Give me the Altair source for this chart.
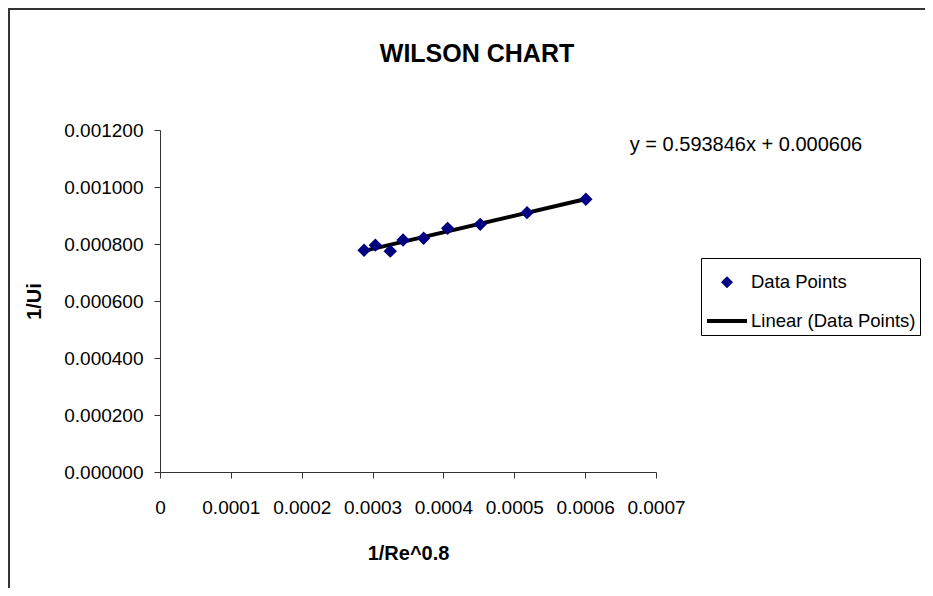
import altair as alt
import pandas as pd

# Data
x_vals = [0.000288, 0.000304, 0.000325, 0.000343, 0.000372, 0.000406, 0.000452, 0.000518, 0.000601]
y_vals = [0.000778, 0.000796, 0.000775, 0.000814, 0.000820, 0.000855, 0.000869, 0.000910, 0.000957]
series_names = ["Data Points", "Linear (Data Points)"]
x_ticks = [0, 0.0001, 0.0002, 0.0003, 0.0004, 0.0005, 0.0006, 0.0007]
y_ticks = [0, 0.0002, 0.0004, 0.0006, 0.0008, 0.0010, 0.0012]
equation_text = ["y = 0.593846x + 0.000606"]
equation_x = [0.000663]
equation_y = [0.001146]

FONT = "Liberation Sans"

pts = pd.DataFrame({"x": x_vals, "y": y_vals, "series": [series_names[0]] * len(x_vals)})
eq = pd.DataFrame({"x": equation_x, "y": equation_y, "label": equation_text})
frame_df = pd.DataFrame({"k": [0]})

x_scale = alt.Scale(domain=[0, 0.0007], nice=False, zero=True)
y_scale = alt.Scale(domain=[0, 0.0012], nice=False, zero=True)

x_axis = alt.Axis(
    values=x_ticks, format="~g", title="1/Re^0.8", grid=False,
    labelFont=FONT, labelFontSize=19, labelColor="black", labelPadding=20,
    titleFont=FONT, titleFontSize=20, titleFontWeight="bold", titleColor="black", titlePadding=26,
    domainColor="#333", tickColor="#333", tickSize=6, labelFlush=False, labelOverlap=False,
)
y_axis = alt.Axis(
    values=y_ticks, format=".6f", title="1/Ui", grid=False,
    labelFont=FONT, labelFontSize=19, labelColor="black", labelPadding=11,
    titleFont=FONT, titleFontSize=20, titleFontWeight="bold", titleColor="black", titlePadding=19,
    domainColor="#333", tickColor="#333", tickSize=6, labelFlush=False, labelOverlap=False,
)

legend = alt.Legend(
    title=" ", titleFontSize=9, titlePadding=2,
    orient="none", legendX=541, legendY=128,
    strokeColor="black", padding=4, labelFont=FONT, labelFontSize=18.5, labelColor="black",
    labelLimit=400, symbolStrokeWidth=4, labelOffset=2, rowPadding=5, fillColor="white",
)

fill_scale = alt.Scale(domain=series_names, range=["#000080", "black"])
stroke_scale = alt.Scale(domain=series_names, range=["#000080", "black"])
shape_scale = alt.Scale(domain=series_names, range=["diamond", "M-1,0H1"])
size_scale = alt.Scale(domain=series_names, range=[40, 1600])

base = alt.Chart(pts)

line = base.transform_regression("x", "y", method="linear").transform_calculate(
    series="'Linear (Data Points)'"
).mark_line(strokeWidth=4).encode(
    x=alt.X("x:Q", scale=x_scale, axis=x_axis),
    y=alt.Y("y:Q", scale=y_scale, axis=y_axis),
    stroke=alt.Stroke("series:N", scale=stroke_scale, legend=legend),
)

points = base.mark_point(strokeWidth=5, opacity=1, fillOpacity=1).encode(
    x=alt.X("x:Q", scale=x_scale, axis=x_axis),
    y=alt.Y("y:Q", scale=y_scale, axis=y_axis),
    fill=alt.Fill("series:N", scale=fill_scale, legend=legend),
    stroke=alt.Stroke("series:N", scale=stroke_scale, legend=legend),
    shape=alt.Shape("series:N", scale=shape_scale, legend=legend),
    size=alt.Size("series:N", scale=size_scale, legend=legend),
)

eq_text = alt.Chart(eq).mark_text(
    align="left", baseline="middle", font=FONT, fontSize=20, color="black"
).encode(
    x=alt.X("x:Q", scale=x_scale),
    y=alt.Y("y:Q", scale=y_scale),
    text="label:N",
)

frame = alt.Chart(frame_df).mark_rect(
    fillOpacity=0, stroke="#333", strokeWidth=2
).encode(
    x=alt.value(-151), y=alt.value(-121), x2=alt.value(900), y2=alt.value(700)
)

chart = alt.layer(frame, line, points, eq_text).properties(
    width=496, height=342,
    autosize=alt.AutoSizeParams(type="none"),
    padding={"left": 152, "top": 122, "right": 269, "bottom": 116},
    title=alt.TitleParams(
        "WILSON CHART", font=FONT, fontSize=25, fontWeight="bold",
        color="black", anchor="middle", dx=69, offset=-59,
    ),
).configure_view(stroke=None).configure_legend(symbolStrokeWidth=4)

chart.save("out.html", embed_options={"renderer": "svg", "actions": False})
